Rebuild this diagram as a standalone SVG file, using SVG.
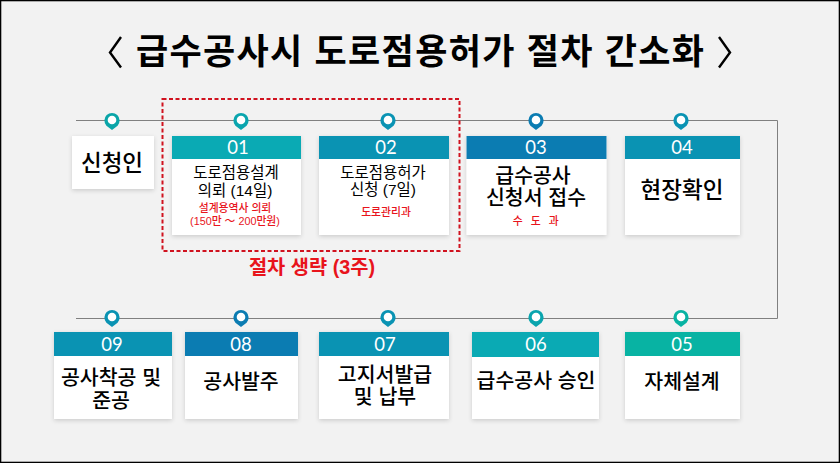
<svg xmlns="http://www.w3.org/2000/svg" width="840" height="463" viewBox="0 0 840 463">
<defs>
<filter id="sh" x="-10%" y="-10%" width="120%" height="125%"><feDropShadow dx="0" dy="1.500" stdDeviation="2" flood-color="#000" flood-opacity="0.16"/></filter>
<symbol id="pin" overflow="visible"><path d="M0 9.500L-5.600 5.200A7.600 7.600 0 1 1 5.600 5.200Z" fill="currentColor"/><circle cx="0" cy="-0.500" r="4.300" fill="#fff"/></symbol>
</defs>
<style>
text{font-family:"Liberation Sans","Noto Sans CJK KR",sans-serif;text-anchor:middle;fill:#000}
.card{fill:#fff;filter:url(#sh)}
.num{font-family:"Lato","Liberation Sans",sans-serif;fill:#fff;font-size:18.500px}
.big{font-size:20.500px;font-weight:500}
.mid{font-size:15.500px}
.small{font-size:10.800px;fill:#e8141c;font-weight:500}
.line{fill:none;stroke:#808080;stroke-width:1}
</style>
<rect x="0.500" y="0.500" width="839" height="462" fill="#f2f2f2" stroke="#000" stroke-width="1.600"/>
<text id="title" x="420" y="64" textLength="568" lengthAdjust="spacing" style="font-size:35px;font-weight:700">급수공사시 도로점용허가 절차 간소화</text>
<path d="M121 37L110 52.500L121 67.500M719 37L730 52.500L719 67.500" fill="none" stroke="#000" stroke-width="2.400"/>
<g id="connectors">
<path class="line" d="M76 120.500H777.500V318.500H76"/>
</g>
<g id="pins">
<use href="#pin" x="112" y="120.500" color="#0aa5a8"/>
<use href="#pin" x="241" y="120.500" color="#0aa5ae"/>
<use href="#pin" x="388" y="120.500" color="#0a93b3"/>
<use href="#pin" x="536" y="120.500" color="#0b7cb2"/>
<use href="#pin" x="681" y="120.500" color="#0a93b3"/>
<use href="#pin" x="112" y="317.500" color="#0a93b3"/>
<use href="#pin" x="241" y="317.500" color="#0b7cb2"/>
<use href="#pin" x="388" y="317.500" color="#0a93b3"/>
<use href="#pin" x="536" y="317.500" color="#0aa5ae"/>
<use href="#pin" x="681" y="317.500" color="#08b3a3"/>
</g>
<g id="applicant"><rect class="card" x="72" y="136" width="82" height="53"/><text x="112" y="171" style="font-size:22.500px;font-weight:500">신청인</text></g>
<g id="n01"><rect class="card" x="172" y="136" width="129" height="99"/><rect x="172" y="136" width="129" height="23" fill="#0aaab4"/><text class="num" x="238" y="154">01</text><text class="mid" x="236" y="178">도로점용설계</text><text class="mid" x="235" y="196">의뢰 (14일)</text><text class="small" x="235" y="212">설계용역사 의뢰</text><text class="small" x="235" y="225">(150만 ～ 200만원)</text></g>
<g id="n02"><rect class="card" x="319" y="136" width="130" height="99"/><rect x="319" y="136" width="130" height="23" fill="#0a93b3"/><text class="num" x="386" y="154">02</text><text class="mid" x="383" y="178">도로점용허가</text><text class="mid" x="383" y="195">신청 (7일)</text><text class="small" x="386" y="216">도로관리과</text></g>
<g id="n03"><rect class="card" x="466.500" y="136" width="140" height="99"/><rect x="466.500" y="136" width="140" height="23" fill="#0b7cb2"/><text class="num" x="536" y="154">03</text><text class="big" x="533" y="183">급수공사</text><text class="big" x="536" y="205">신청서 접수</text><text class="small" x="537" y="225" style="letter-spacing:2.500px">수 도 과</text></g>
<g id="n04"><rect class="card" x="625" y="136" width="115" height="99"/><rect x="625" y="136" width="115" height="23" fill="#0a93b3"/><text class="num" x="682" y="154">04</text><text x="682" y="198" style="font-size:22.500px;font-weight:500">현장확인</text></g>
<g id="n05"><rect class="card" x="625" y="332" width="115" height="87"/><rect x="625" y="332" width="115" height="24" fill="#08b3a3"/><text class="num" x="682" y="351">05</text><text class="big" x="682" y="389">자체설계</text></g>
<g id="n06"><rect class="card" x="472" y="332" width="127" height="87"/><rect x="472" y="332" width="127" height="25" fill="#0aaab4"/><text class="num" x="536" y="351">06</text><text class="big" x="536" y="388">급수공사 승인</text></g>
<g id="n07"><rect class="card" x="319" y="332" width="130" height="87"/><rect x="319" y="332" width="130" height="24" fill="#0a93b3"/><text class="num" x="385" y="351">07</text><text class="big" x="385" y="382">고지서발급</text><text class="big" x="385" y="404">및 납부</text></g>
<g id="n08"><rect class="card" x="185" y="332" width="113" height="87"/><rect x="185" y="332" width="113" height="24" fill="#0b7cb2"/><text class="num" x="241" y="351">08</text><text class="big" x="241" y="389">공사발주</text></g>
<g id="n09"><rect class="card" x="54" y="332" width="118" height="87"/><rect x="54" y="332" width="118" height="24" fill="#0a93b3"/><text class="num" x="112" y="351">09</text><text class="big" x="111" y="385">공사착공 및</text><text class="big" x="111" y="408">준공</text></g>
<g id="omit"><rect x="162.500" y="99" width="297" height="152" fill="none" stroke="#d0121f" stroke-width="2" stroke-dasharray="4 2.500"/><text x="312" y="274" style="font-size:19.800px;font-weight:700;fill:#e8141c">절차 생략 (3주)</text></g>
</svg>
